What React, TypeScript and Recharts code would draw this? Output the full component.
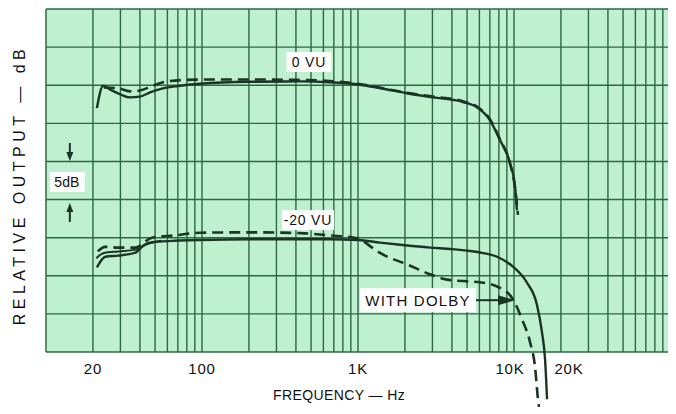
import {
  LineChart, Line, XAxis, YAxis, ReferenceArea, ReferenceLine, ReferenceDot,
} from "recharts"

// frequency axis
const TICK_FREQS = [20, 100, 1000, 10000, 20000]
const TICK_LABELS = ["20", "100", "1K", "10K", "20K"]

const GRID_FREQS = [
  20, 30, 40, 50, 60, 70, 80, 90,
  100, 200, 300, 400, 500, 600, 700, 800, 900,
  1000, 2000, 3000, 4000, 5000, 6000, 7000, 8000, 9000,
  10000, 20000, 30000, 40000, 50000, 60000, 70000, 80000, 90000,
]
const GRID_DB = [10, 5, 0, -5, -10, -15, -20, -25, -30, -35]

// 0 VU, no Dolby (solid)
const VU0_SOLID_F = [21.2, 23.2, 26, 30, 34.5, 40, 47, 54, 70, 97, 203, 425, 662, 1000, 1400, 2060, 3030, 4710, 5790, 7020, 8130, 9420, 10150, 10450]
const VU0_SOLID_DB = [-3.0, -0.1, -0.6, -1.2, -1.6, -1.5, -0.9, -0.5, -0.1, 0.2, 0.45, 0.5, 0.4, 0.1, -0.4, -1.05, -1.6, -2.2, -2.9, -4.6, -7.2, -10.2, -13.3, -16.4]

// 0 VU, with Dolby (dashed)
const VU0_DASH_F = [23.5, 29, 34.5, 40, 48, 60, 80, 120, 200, 400, 660, 1000, 1400, 2060, 3030, 4710, 5790, 7020, 8130, 9420, 10150, 10600]
const VU0_DASH_DB = [-0.3, -0.4, -0.8, -0.7, -0.1, 0.5, 0.7, 0.75, 0.75, 0.7, 0.55, 0.2, -0.35, -1.0, -1.5, -2.1, -2.8, -4.5, -7.1, -10.2, -13.5, -17.0]

// -20 VU, no Dolby (solid)
const VU20_SOLID_F = [21.2, 24, 29, 37, 43, 48, 54, 67, 97, 200, 425, 662, 1000, 1384, 2000, 2900, 4000, 5224, 6055, 7786, 9853, 12110, 14030, 15110, 15810, 16290]
const VU20_SOLID_DB = [-23.9, -22.5, -22.35, -22.0, -20.9, -20.6, -20.5, -20.4, -20.3, -20.2, -20.2, -20.2, -20.3, -20.65, -21.0, -21.3, -21.5, -21.75, -21.95, -22.5, -23.8, -25.9, -28.8, -32.4, -35.9, -41.2]

// -20 VU, second low-frequency trace
const VU20_LOW_F = [21, 23.5, 29, 37, 45, 55]
const VU20_LOW_DB = [-22.7, -22.0, -21.8, -21.6, -20.8, -20.4]

// -20 VU, with Dolby (dashed)
const VU20_DASH_F = [21.5, 23.9, 28.9, 37.2, 47.8, 67, 97, 203, 425, 662, 1000, 1194, 1384, 2061, 2894, 3720, 5224, 6055, 7786, 9853, 11250, 12670, 13630, 14250, 14460]
const VU20_DASH_DB = [-21.8, -21.2, -21.3, -21.3, -20.0, -19.7, -19.35, -19.3, -19.4, -19.7, -20.1, -21.1, -22.0, -23.5, -24.8, -25.5, -25.75, -25.85, -26.4, -28.1, -30.7, -33.7, -36.9, -41.2, -42.2]

const toPoints = (f: number[], db: number[]) => f.map((v, i) => ({ f: v, db: db[i] }))

const PAPER = "#bff0d0"
const GRID = "#2c6842"
const INK = "#1b3524"
const FONT = "'Liberation Sans', Arial, sans-serif"

const boxLabel = (text: string, w: number) => (p: any) => (
  <g>
    <rect x={p.cx - w / 2} y={p.cy - 10} width={w} height={20} fill="#fff" />
    <text x={p.cx} y={p.cy + 5} textAnchor="middle" fontSize={14} fontFamily={FONT} fill="#111" letterSpacing={0.8}>
      {text}
    </text>
  </g>
)

const dolbyLabel = (p: any) => (
  <g>
    <rect x={p.cx - 58} y={p.cy - 12} width={116} height={24} fill="#fff" />
    <text x={p.cx} y={p.cy + 6} textAnchor="middle" fontSize={15} fontFamily={FONT} fill="#111" letterSpacing={1.2}>
      WITH DOLBY
    </text>
    <line x1={p.cx + 58} y1={p.cy} x2={p.cx + 84} y2={p.cy} stroke={INK} strokeWidth={2} />
    <polygon points={`${p.cx + 97},${p.cy} ${p.cx + 80},${p.cy - 5} ${p.cx + 80},${p.cy + 5}`} fill={INK} />
  </g>
)

const fiveDbLabel = (p: any) => {
  const ax = p.cx + 3
  return (
    <g>
      <rect x={p.cx - 17} y={p.cy - 10} width={35} height={20} fill="#fff" />
      <text x={p.cx} y={p.cy + 5} textAnchor="middle" fontSize={14} fontFamily={FONT} fill="#111">5dB</text>
      <line x1={ax} y1={p.cy - 39} x2={ax} y2={p.cy - 28} stroke={INK} strokeWidth={2} />
      <polygon points={`${ax},${p.cy - 21} ${ax - 3.5},${p.cy - 30} ${ax + 3.5},${p.cy - 30}`} fill={INK} />
      <line x1={ax} y1={p.cy + 40} x2={ax} y2={p.cy + 28} stroke={INK} strokeWidth={2} />
      <polygon points={`${ax},${p.cy + 21} ${ax - 3.5},${p.cy + 30} ${ax + 3.5},${p.cy + 30}`} fill={INK} />
    </g>
  )
}

const FreqTick = (props: any) => {
  const { x, y, payload } = props
  const i = TICK_FREQS.indexOf(payload.value)
  const label = TICK_LABELS[i] ?? ""
  const dx = label === "10K" ? -4 : label === "20K" ? 8 : 0
  return (
    <text x={x + dx} y={y - 47} textAnchor="middle" fontSize={15} fontFamily={FONT} fill="#111" letterSpacing={0.8}>
      {label}
    </text>
  )
}

export default function App() {
  return (
    <div style={{ position: "relative", width: 668, height: 406, fontFamily: FONT }}>
      <LineChart width={668} height={406} margin={{ top: 1, right: 6, left: 38, bottom: 0 }}>
        <XAxis
          dataKey="f"
          type="number"
          scale="log"
          domain={[10, 100000]}
          ticks={TICK_FREQS}
          tick={<FreqTick />}
          tickLine={false}
          axisLine={false}
          height={1}
          interval={0}
        />
        <YAxis hide type="number" domain={[-43, 10]} />
        <ReferenceArea x1={10} x2={100000} y1={-35} y2={10} fill={PAPER} fillOpacity={1} stroke="none" />
        {GRID_DB.map((v) => (
          <ReferenceLine key={`h${v}`} y={v} stroke={GRID} strokeWidth={1.4} />
        ))}
        {GRID_FREQS.map((f) => (
          <ReferenceLine key={`v${f}`} segment={[{ x: f, y: -35 }, { x: f, y: 10 }]} stroke={GRID} strokeWidth={1.4} />
        ))}
        <ReferenceLine segment={[{ x: 10, y: -35 }, { x: 10, y: 10 }]} stroke={GRID} strokeWidth={1.5} />
        <ReferenceLine segment={[{ x: 100000, y: -35 }, { x: 100000, y: 10 }]} stroke={GRID} strokeWidth={1.5} />

        <Line data={toPoints(VU0_SOLID_F, VU0_SOLID_DB)} dataKey="db" type="monotone" dot={false} stroke={INK} strokeWidth={2.4} isAnimationActive={false} />
        <Line data={toPoints(VU0_DASH_F, VU0_DASH_DB)} dataKey="db" type="monotone" dot={false} stroke={INK} strokeWidth={2.6} strokeDasharray="11 6" isAnimationActive={false} />
        <Line data={toPoints(VU20_SOLID_F, VU20_SOLID_DB)} dataKey="db" type="monotone" dot={false} stroke={INK} strokeWidth={2.4} isAnimationActive={false} />
        <Line data={toPoints(VU20_LOW_F, VU20_LOW_DB)} dataKey="db" type="monotone" dot={false} stroke={INK} strokeWidth={2} isAnimationActive={false} />
        <Line data={toPoints(VU20_DASH_F, VU20_DASH_DB)} dataKey="db" type="monotone" dot={false} stroke={INK} strokeWidth={2.6} strokeDasharray="11 6" isAnimationActive={false} />

        <ReferenceDot x={485} y={3.05} shape={boxLabel("0 VU", 45)} />
        <ReferenceDot x={478} y={-17.7} shape={boxLabel("-20 VU", 52)} />
        <ReferenceDot x={2426} y={-28.2} shape={dolbyLabel} />
        <ReferenceDot x={13.6} y={-12.7} shape={fiveDbLabel} />
      </LineChart>
      <div
        style={{
          position: "absolute", left: 12, top: 177, transform: "translate(-50%, -50%) rotate(-90deg)",
          whiteSpace: "nowrap", fontSize: 16, letterSpacing: 4.5, color: "#111",
        }}
      >
        RELATIVE OUTPUT — dB
      </div>
      <div
        style={{
          position: "absolute", left: 331, top: 387, transform: "translate(-50%, -50%)",
          whiteSpace: "nowrap", fontSize: 14, letterSpacing: 0.4, color: "#111",
        }}
      >
        FREQUENCY — Hz
      </div>
    </div>
  )
}
